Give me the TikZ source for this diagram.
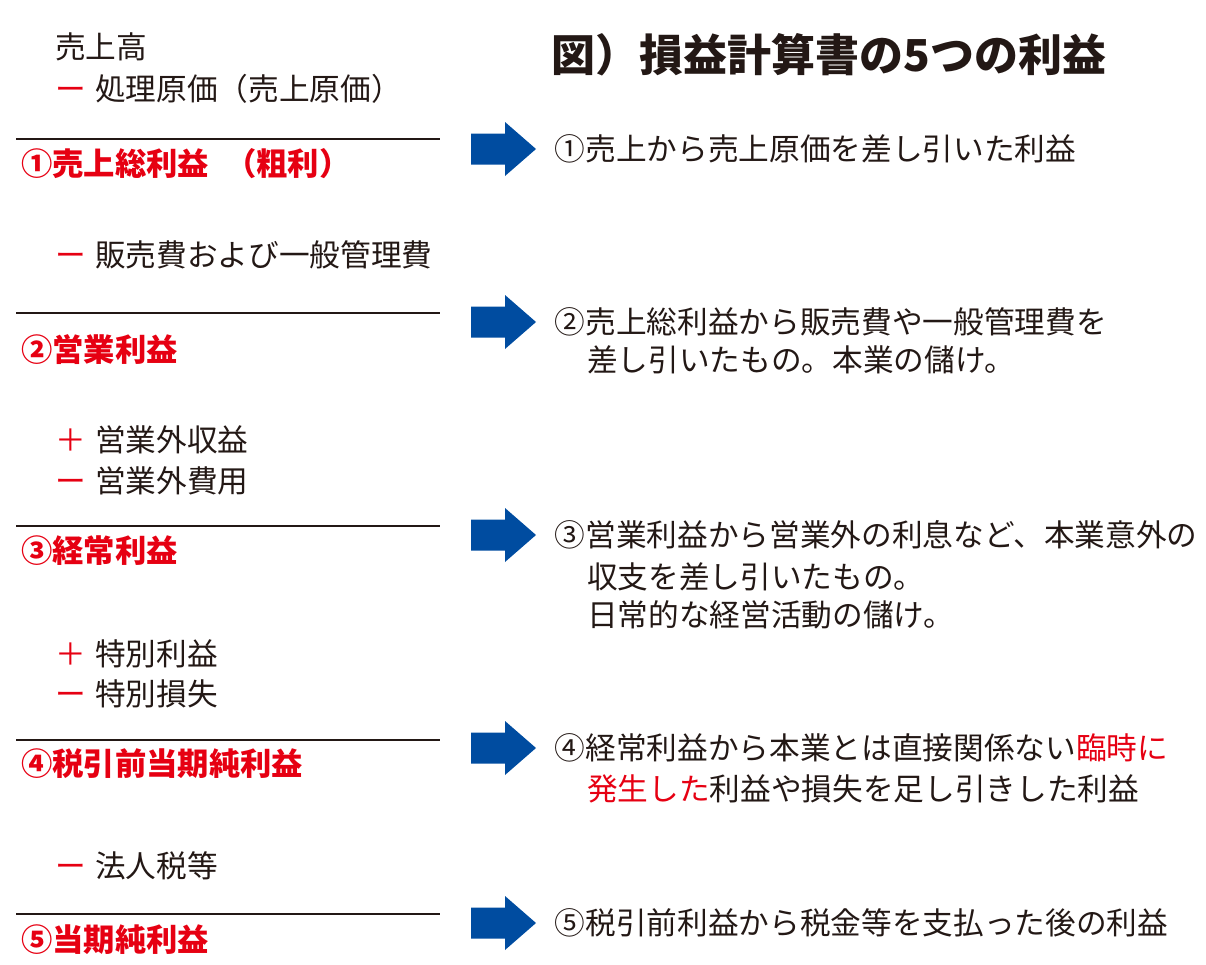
\documentclass[tikz,border=0pt]{standalone}
\usepackage{fontspec}
\setmainfont{Noto Sans CJK JP}
\usetikzlibrary{positioning}
\definecolor{ink}{RGB}{35,24,21}
\definecolor{inkred}{RGB}{230,0,18}
\definecolor{inkblue}{RGB}{0,76,160}
\newcommand\signmark[1]{{\color{inkred}#1}\hspace{7pt}}

\begin{document}
\begin{tikzpicture}[
  x=0.75pt,y=-0.75pt,
  item/.style={anchor=west,inner sep=0pt,text=ink,font=\fontsize{23}{28}\selectfont},
  profit/.style={anchor=west,inner sep=0pt,text=inkred,font=\fontsize{23.5}{28}\selectfont\bfseries},
  desc/.style={anchor=west,inner sep=0pt,text=ink,font=\fontsize{23}{28}\selectfont},
  title/.style={anchor=west,inner sep=0pt,text=ink,font=\fontsize{33}{38}\selectfont\bfseries},
  rule/.style={draw=ink,line width=1.3pt},
  blockarrow/.pic={
    \fill[inkblue] (0,-15.5) -- (34,-15.5) -- (34,-27) -- (65,0) -- (34,27) -- (34,15.5) -- (0,15.5) -- cycle;
    \coordinate (-tip) at (65,0);
  }
]
  \useasboundingbox (0,0) rectangle (1206,964);

  \node[title] (title) at (551,55) {図）損益計算書の5つの利益};

  \node[item] (sales) at (55,47) {売上高};
  \node[item] (cogs) at (55,89) {\signmark{ー}処理原価（売上原価）};
  \draw[rule] (16,139) -- (440,139);
  \node[profit] (p1) at (21,164) {①売上総利益\hspace{12pt}（粗利）};

  \node[item] (sga) at (55,255) {\signmark{ー}販売費および一般管理費};
  \draw[rule] (16,313) -- (440,313);
  \node[profit] (p2) at (21,350) {②営業利益};

  \node[item] (nopinc) at (55,440) {\signmark{＋}営業外収益};
  \node[item] (nopexp) at (55,481) {\signmark{ー}営業外費用};
  \draw[rule] (16,526) -- (440,526);
  \node[profit] (p3) at (21,551) {③経常利益};

  \node[item] (xgain) at (55,654) {\signmark{＋}特別利益};
  \node[item] (xloss) at (55,694) {\signmark{ー}特別損失};
  \draw[rule] (16,740) -- (440,740);
  \node[profit] (p4) at (21,764) {④税引前当期純利益};

  \node[item] (tax) at (55,866) {\signmark{ー}法人税等};
  \draw[rule] (16,914) -- (440,914);
  \node[profit] (p5) at (21,940) {⑤当期純利益};

  \pic (a1) at (471,149) {blockarrow};
  \pic (a2) at (471,322) {blockarrow};
  \pic (a3) at (471,535) {blockarrow};
  \pic (a4) at (471,748) {blockarrow};
  \pic (a5) at (471,923) {blockarrow};

  \node[desc,right=14pt of a1-tip] (d1) {①売上から売上原価を差し引いた利益};
  \node[desc,right=14pt of a2-tip] (d2) {②売上総利益から販売費や一般管理費を};
  \node[desc] (d2b) at (587,360) {差し引いたもの。本業の儲け。};
  \node[desc,right=14pt of a3-tip] (d3) {③営業利益から営業外の利息など、本業意外の};
  \node[desc] (d3b) at (587,577) {収支を差し引いたもの。};
  \node[desc] (d3c) at (587,615) {日常的な経営活動の儲け。};
  \node[desc,right=14pt of a4-tip] (d4) {④経常利益から本業とは直接関係ない{\color{inkred}臨時に}};
  \node[desc] (d4b) at (587,789) {{\color{inkred}発生した}利益や損失を足し引きした利益};
  \node[desc,right=14pt of a5-tip] (d5) {⑤税引前利益から税金等を支払った後の利益};
\end{tikzpicture}
\end{document}
